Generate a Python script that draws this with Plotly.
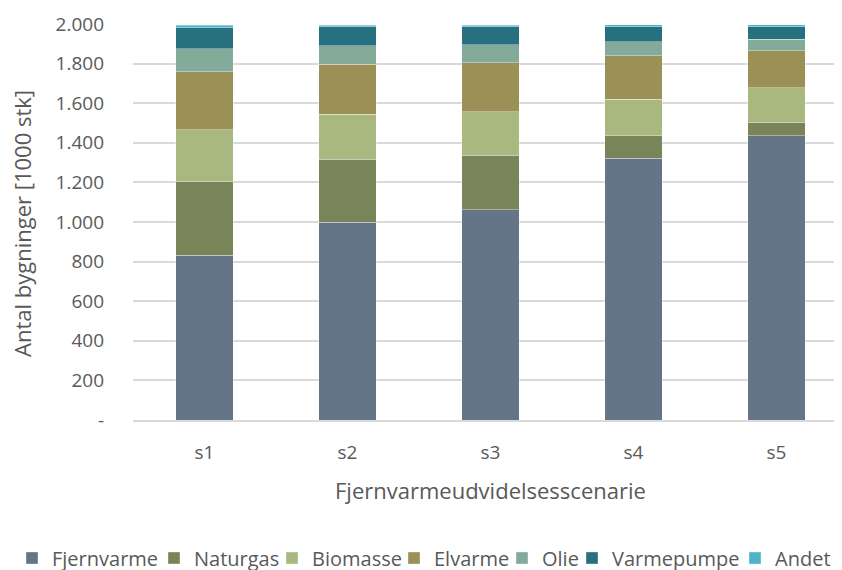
import plotly.graph_objects as go

categories = ["s1", "s2", "s3", "s4", "s5"]
series_names = ["Fjernvarme", "Naturgas", "Biomasse", "Elvarme", "Olie", "Varmepumpe", "Andet"]
fjernvarme = [833, 1000, 1061, 1322, 1436]
naturgas = [374, 316, 277, 114, 69]
biomasse = [258, 228, 218, 184, 172]
elvarme = [294, 254, 249, 220, 187]
olie = [115, 92, 89, 71, 60]
varmepumpe = [107, 95, 91, 76, 63]
andet = [12, 8, 8, 8, 8]
colors = ["#637587", "#7a8459", "#a8b87e", "#9b9055", "#84ab99", "#26707f", "#4db3c7"]

tick_vals = [0, 200, 400, 600, 800, 1000, 1200, 1400, 1600, 1800, 2000]
tick_text = ["-", "200", "400", "600", "800", "1.000", "1.200", "1.400", "1.600", "1.800", "2.000"]

values = [fjernvarme, naturgas, biomasse, elvarme, olie, varmepumpe, andet]

# legend entry text start (page px) in the reference
legend_text_x = [50, 192, 310, 432, 540, 610, 773]

FONT = "Open Sans"
GREY = "#595959"
W, H = 842, 562
L, R, T, B = 125, 2, 16, 150
PW = W - L - R
PH = H - T - B

fig = go.Figure()
legend_layouts = {}
for i, (name, vals, col) in enumerate(zip(series_names, values, colors)):
    key = "legend" if i == 0 else f"legend{i + 1}"
    fig.add_trace(go.Bar(
        name=name, x=categories, y=vals, legend=key,
        marker=dict(color=col, line=dict(color="rgba(255,255,255,0.6)", width=0.6)),
    ))
    legend_layouts[key] = dict(
        orientation="h", xref="container", yref="container",
        x=(legend_text_x[i] + 2 - 8 - 40) / W, xanchor="left",
        y=1 - 550 / H, yanchor="middle",
        font=dict(family=FONT, size=20, color=GREY),
        itemwidth=30, bgcolor="rgba(0,0,0,0)",
    )

fig.update_layout(
    barmode="stack",
    bargap=0.595,
    width=W, height=H,
    margin=dict(l=L, r=R, t=T, b=B, autoexpand=False),
    plot_bgcolor="white", paper_bgcolor="white",
    font=dict(family=FONT, color=GREY, size=19),
    showlegend=True,
    xaxis=dict(showgrid=False, showline=True, linecolor="#d9d9d9", linewidth=1.5,
               ticks="", ticklabelstandoff=14, tickfont=dict(size=19, color=GREY)),
    yaxis=dict(range=[0, 2000], tickvals=tick_vals, ticktext=tick_text,
               showgrid=True, gridcolor="#d9d9d9", gridwidth=1.5,
               zeroline=False, ticks="", ticklabelstandoff=28,
               tickfont=dict(size=19, color=GREY)),
    annotations=[
        dict(text="Antal bygninger [1000 stk]", xref="paper", yref="paper",
             x=(14 - L) / PW, y=(PH - (223 - 8 - T)) / PH, xanchor="center", yanchor="middle",
             textangle=-90, showarrow=False, font=dict(size=22, color=GREY)),
        dict(text="Fjernvarmeudvidelsesscenarie", xref="paper", yref="paper",
             x=0.5, y=-(482 - (T + PH)) / PH, xanchor="center", yanchor="middle",
             showarrow=False, font=dict(size=22, color=GREY)),
    ],
    **legend_layouts,
)
fig.write_html("out.html")
